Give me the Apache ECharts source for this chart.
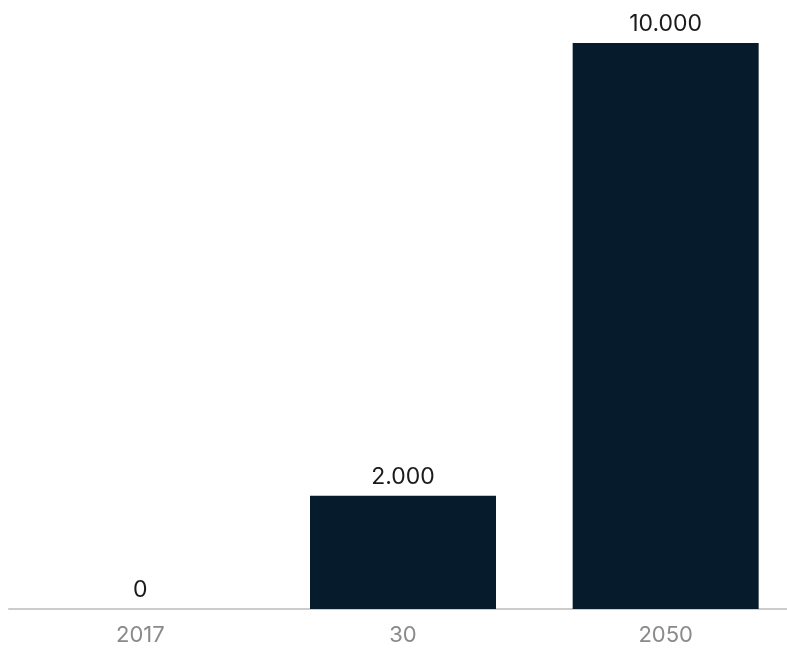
<!DOCTYPE html>
<html><head><meta charset="utf-8">
<script src="https://cdn.jsdelivr.net/npm/echarts@6/dist/echarts.min.js"></script>
<style>html,body{margin:0;padding:0;background:#fff;overflow:hidden}#c{width:800px;height:652px}</style>
</head><body><div id="c"></div>
<script>
const categories = ['2017', '30', '2050'];
const values = [0, 2000, 10000];
const labels = ['0', '2.000', '10.000'];

const chart = echarts.init(document.getElementById('c'));
chart.setOption({
  animation: false,
  grid: { left: 9, width: 788, top: 43, bottom: 43, containLabel: false },
  xAxis: {
    type: 'category', data: categories,
    axisLine: { lineStyle: { color: '#cccccc', width: 2 } },
    axisTick: { show: false },
    axisLabel: { color: '#8a8a8a', fontSize: 22, fontFamily: 'Inter', margin: 15 }
  },
  yAxis: { type: 'value', min: 0, max: 10000, show: false, splitLine: { show: false } },
  series: [{
    type: 'bar', data: values, barWidth: 186,
    itemStyle: { color: '#061c2d' },
    label: {
      show: true, position: 'top', distance: 7,
      color: '#1a1a1a', fontSize: 23, fontFamily: 'Inter',
      formatter: p => labels[p.dataIndex]
    }
  }]
});
</script></body></html>
